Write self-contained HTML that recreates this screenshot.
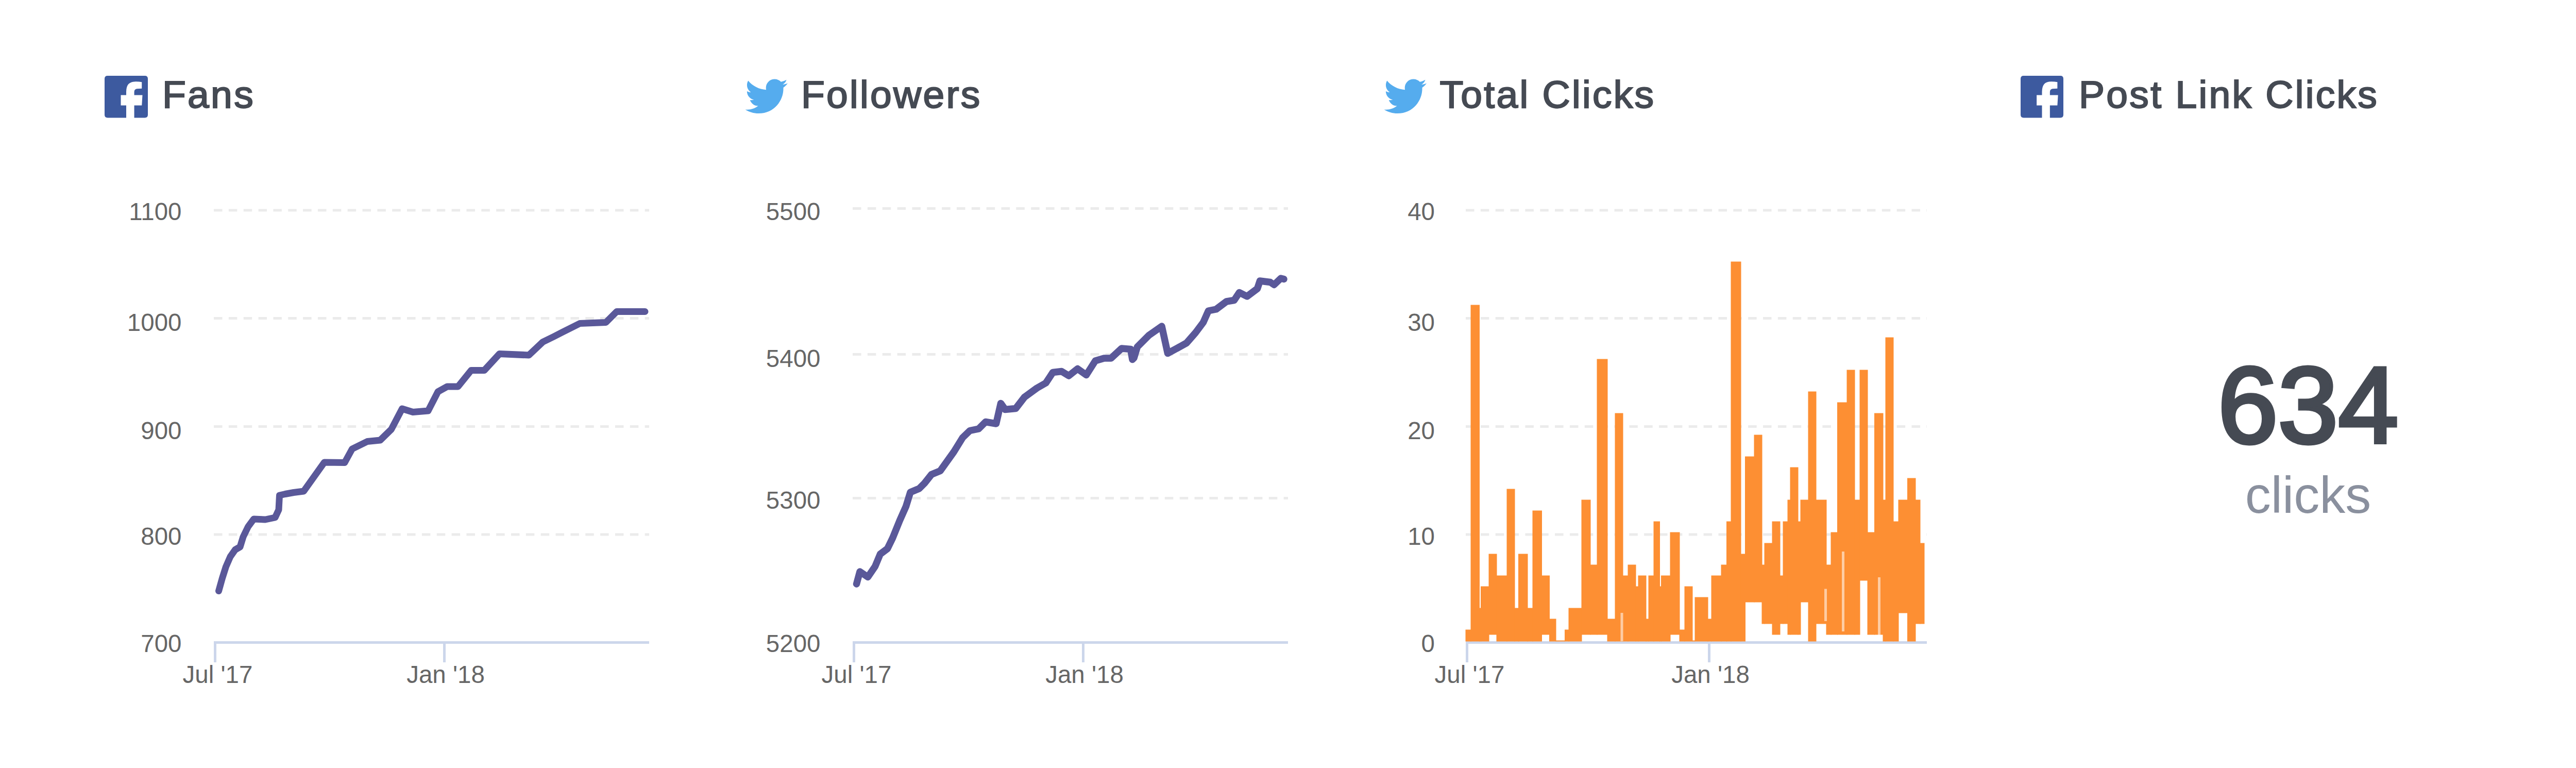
<!DOCTYPE html>
<html><head><meta charset="utf-8"><style>
html,body{margin:0;padding:0;background:#fff;overflow:hidden;}
svg{display:block;}
</style></head><body>
<svg width="5065" height="1490" viewBox="0 0 1013 298">
<rect width="1013" height="298" fill="#fff"/>
<path transform="translate(40.6 29.4) scale(0.016800000000000002 0.016300000000000002)" fill="#3d5a9f" d="M930 0 Q1000 0 1000 70 V930 Q1000 1000 930 1000 H685 V705 H860 L875 460 H685 V385 Q685 320 745 310 L860 305 V150 Q800 138 720 138 Q600 138 550 200 Q500 262 500 380 V460 H375 V705 H500 V1000 H70 Q0 1000 0 930 V70 Q0 0 70 0 Z"/>
<text x="63" y="41.8" font-family="Liberation Sans, sans-serif" font-size="15" fill="#454a53" stroke="#454a53" stroke-width="0.45" letter-spacing="0.66">Fans</text>
<path transform="translate(289.3 29.16) scale(0.0322 0.032)" fill="#55acee" d="M459.37 151.716c.325 4.548.325 9.097.325 13.645 0 138.72-105.583 298.558-298.558 298.558-59.452 0-114.68-17.219-161.137-47.106 8.447.974 16.568 1.299 25.34 1.299 49.055 0 94.213-16.568 130.274-44.832-46.132-.975-84.792-31.188-98.112-72.772 6.498.974 12.995 1.624 19.818 1.624 9.421 0 18.843-1.3 27.614-3.573-48.081-9.747-84.143-51.98-84.143-102.985v-1.299c13.969 7.797 30.214 12.67 47.431 13.319-28.264-18.843-46.781-51.005-46.781-87.391 0-19.492 5.197-37.36 14.294-52.954 51.655 63.675 129.3 105.258 216.365 109.807-1.624-7.797-2.599-15.918-2.599-24.04 0-57.828 46.782-104.934 104.934-104.934 30.213 0 57.502 12.67 76.67 33.137 23.715-4.548 46.456-13.32 66.599-25.34-7.798 24.366-24.366 44.833-46.132 57.827 21.117-2.273 41.584-8.122 60.426-16.243-14.292 20.791-32.161 39.308-52.628 54.253z"/>
<text x="311" y="41.8" font-family="Liberation Sans, sans-serif" font-size="15" fill="#454a53" stroke="#454a53" stroke-width="0.45" letter-spacing="0.66">Followers</text>
<path transform="translate(537.3 29.16) scale(0.0322 0.032)" fill="#55acee" d="M459.37 151.716c.325 4.548.325 9.097.325 13.645 0 138.72-105.583 298.558-298.558 298.558-59.452 0-114.68-17.219-161.137-47.106 8.447.974 16.568 1.299 25.34 1.299 49.055 0 94.213-16.568 130.274-44.832-46.132-.975-84.792-31.188-98.112-72.772 6.498.974 12.995 1.624 19.818 1.624 9.421 0 18.843-1.3 27.614-3.573-48.081-9.747-84.143-51.98-84.143-102.985v-1.299c13.969 7.797 30.214 12.67 47.431 13.319-28.264-18.843-46.781-51.005-46.781-87.391 0-19.492 5.197-37.36 14.294-52.954 51.655 63.675 129.3 105.258 216.365 109.807-1.624-7.797-2.599-15.918-2.599-24.04 0-57.828 46.782-104.934 104.934-104.934 30.213 0 57.502 12.67 76.67 33.137 23.715-4.548 46.456-13.32 66.599-25.34-7.798 24.366-24.366 44.833-46.132 57.827 21.117-2.273 41.584-8.122 60.426-16.243-14.292 20.791-32.161 39.308-52.628 54.253z"/>
<text x="558.9" y="41.8" font-family="Liberation Sans, sans-serif" font-size="15" fill="#454a53" stroke="#454a53" stroke-width="0.45" letter-spacing="0.66">Total Clicks</text>
<path transform="translate(784.4 29.4) scale(0.0166 0.016300000000000002)" fill="#3d5a9f" d="M930 0 Q1000 0 1000 70 V930 Q1000 1000 930 1000 H685 V705 H860 L875 460 H685 V385 Q685 320 745 310 L860 305 V150 Q800 138 720 138 Q600 138 550 200 Q500 262 500 380 V460 H375 V705 H500 V1000 H70 Q0 1000 0 930 V70 Q0 0 70 0 Z"/>
<text x="807" y="41.8" font-family="Liberation Sans, sans-serif" font-size="15" fill="#454a53" stroke="#454a53" stroke-width="0.45" letter-spacing="0.66">Post Link Clicks</text>
<line x1="83" y1="81.6" x2="252" y2="81.6" stroke="#ebebeb" stroke-width="1" stroke-dasharray="3.3 2.47"/>
<line x1="83" y1="123.5" x2="252" y2="123.5" stroke="#ebebeb" stroke-width="1" stroke-dasharray="3.3 2.47"/>
<line x1="83" y1="165.5" x2="252" y2="165.5" stroke="#ebebeb" stroke-width="1" stroke-dasharray="3.3 2.47"/>
<line x1="83" y1="207.4" x2="252" y2="207.4" stroke="#ebebeb" stroke-width="1" stroke-dasharray="3.3 2.47"/>
<text x="70.5" y="85.4" text-anchor="end" font-family="Liberation Sans, sans-serif" font-size="9.5" fill="#666666">1100</text>
<text x="70.5" y="128.4" text-anchor="end" font-family="Liberation Sans, sans-serif" font-size="9.5" fill="#666666">1000</text>
<text x="70.5" y="170.4" text-anchor="end" font-family="Liberation Sans, sans-serif" font-size="9.5" fill="#666666">900</text>
<text x="70.5" y="211.4" text-anchor="end" font-family="Liberation Sans, sans-serif" font-size="9.5" fill="#666666">800</text>
<text x="70.5" y="252.9" text-anchor="end" font-family="Liberation Sans, sans-serif" font-size="9.5" fill="#666666">700</text>
<line x1="83" y1="249.3" x2="252" y2="249.3" stroke="#ccd6eb" stroke-width="1"/>
<line x1="83.5" y1="249.3" x2="83.5" y2="257" stroke="#ccd6eb" stroke-width="1"/>
<text x="84.5" y="265" text-anchor="middle" font-family="Liberation Sans, sans-serif" font-size="9.5" fill="#666666">Jul '17</text>
<line x1="172.5" y1="249.3" x2="172.5" y2="257" stroke="#ccd6eb" stroke-width="1"/>
<text x="173.0" y="265" text-anchor="middle" font-family="Liberation Sans, sans-serif" font-size="9.5" fill="#666666">Jan '18</text>
<polyline points="84.9,229.3 86.3,224.3 87.7,219.9 89.4,216 91.3,213.3 93.2,212.2 94.4,208.3 96.3,204.4 98.5,201.4 103,201.6 106.8,200.8 108.2,197.8 108.5,192.2 110.7,191.7 114,191.1 117.9,190.6 125.9,179.4 133.8,179.5 136.7,174.2 142.6,171.3 147.6,170.8 151.9,166.6 156.1,158.6 160.3,159.9 166.2,159.4 170.0,152.0 173.6,150 177.8,150 182.9,143.7 188.0,143.7 193.9,137.3 205.3,137.8 210.7,132.7 215,130.6 218.3,128.9 225.1,125.5 235.2,125.1 239.4,120.9 250.4,120.9" fill="none" stroke="#5a5899" stroke-width="2.6" stroke-linejoin="round" stroke-linecap="round"/>
<line x1="331" y1="80.9" x2="500" y2="80.9" stroke="#ebebeb" stroke-width="1" stroke-dasharray="3.3 2.47"/>
<line x1="331" y1="137.5" x2="500" y2="137.5" stroke="#ebebeb" stroke-width="1" stroke-dasharray="3.3 2.47"/>
<line x1="331" y1="193.3" x2="500" y2="193.3" stroke="#ebebeb" stroke-width="1" stroke-dasharray="3.3 2.47"/>
<text x="318.5" y="85.4" text-anchor="end" font-family="Liberation Sans, sans-serif" font-size="9.5" fill="#666666">5500</text>
<text x="318.5" y="142.4" text-anchor="end" font-family="Liberation Sans, sans-serif" font-size="9.5" fill="#666666">5400</text>
<text x="318.5" y="197.4" text-anchor="end" font-family="Liberation Sans, sans-serif" font-size="9.5" fill="#666666">5300</text>
<text x="318.5" y="252.9" text-anchor="end" font-family="Liberation Sans, sans-serif" font-size="9.5" fill="#666666">5200</text>
<line x1="331" y1="249.3" x2="500" y2="249.3" stroke="#ccd6eb" stroke-width="1"/>
<line x1="331.5" y1="249.3" x2="331.5" y2="257" stroke="#ccd6eb" stroke-width="1"/>
<text x="332.5" y="265" text-anchor="middle" font-family="Liberation Sans, sans-serif" font-size="9.5" fill="#666666">Jul '17</text>
<line x1="420.5" y1="249.3" x2="420.5" y2="257" stroke="#ccd6eb" stroke-width="1"/>
<text x="421.0" y="265" text-anchor="middle" font-family="Liberation Sans, sans-serif" font-size="9.5" fill="#666666">Jan '18</text>
<polyline points="332.5,226.6 333.8,221.8 336.9,223.9 339.7,219.8 341.7,215 344.5,212.9 346.5,208.8 349.3,201.9 351.7,196.5 353.4,191 356.8,189.6 358.9,187.5 361.6,184.1 365,182.7 370.3,175.3 373.7,169.8 376.5,167.1 379.9,166.4 382.6,163.7 386.7,164.4 388.5,156.5 390.2,158.9 394.3,158.5 397.7,154.1 402.5,150.6 406,148.6 408.7,144.5 412.1,144.1 414.9,145.8 418.3,143.1 421.7,145.5 425.2,140 428.6,139 431.3,139 435.4,135.2 438.9,135.5 439.6,139.5 440.2,138.9 441.5,134.6 446,130.1 451,126.6 453.3,137.1 457,135.1 460.6,133.1 464.1,129.1 467.1,125.1 469.1,120.6 472.1,120 476.1,117 479.1,116.5 481.1,113.5 484.1,115 488.1,112 489.1,109 493.1,109.5 494.6,110.5 497.2,108 498.4,108.3" fill="none" stroke="#5a5899" stroke-width="2.7" stroke-linejoin="round" stroke-linecap="round"/>
<line x1="569" y1="81.6" x2="748" y2="81.6" stroke="#ebebeb" stroke-width="1" stroke-dasharray="3.3 2.47"/>
<line x1="569" y1="123.5" x2="748" y2="123.5" stroke="#ebebeb" stroke-width="1" stroke-dasharray="3.3 2.47"/>
<line x1="569" y1="165.5" x2="748" y2="165.5" stroke="#ebebeb" stroke-width="1" stroke-dasharray="3.3 2.47"/>
<line x1="569" y1="207.4" x2="748" y2="207.4" stroke="#ebebeb" stroke-width="1" stroke-dasharray="3.3 2.47"/>
<text x="557" y="85.4" text-anchor="end" font-family="Liberation Sans, sans-serif" font-size="9.5" fill="#666666">40</text>
<text x="557" y="128.4" text-anchor="end" font-family="Liberation Sans, sans-serif" font-size="9.5" fill="#666666">30</text>
<text x="557" y="170.4" text-anchor="end" font-family="Liberation Sans, sans-serif" font-size="9.5" fill="#666666">20</text>
<text x="557" y="211.4" text-anchor="end" font-family="Liberation Sans, sans-serif" font-size="9.5" fill="#666666">10</text>
<text x="557" y="252.9" text-anchor="end" font-family="Liberation Sans, sans-serif" font-size="9.5" fill="#666666">0</text>
<line x1="569" y1="249.3" x2="748" y2="249.3" stroke="#ccd6eb" stroke-width="1"/>
<line x1="569.5" y1="249.3" x2="569.5" y2="257" stroke="#ccd6eb" stroke-width="1"/>
<text x="570.5" y="265" text-anchor="middle" font-family="Liberation Sans, sans-serif" font-size="9.5" fill="#666666">Jul '17</text>
<line x1="663.5" y1="249.3" x2="663.5" y2="257" stroke="#ccd6eb" stroke-width="1"/>
<text x="664.0" y="265" text-anchor="middle" font-family="Liberation Sans, sans-serif" font-size="9.5" fill="#666666">Jan '18</text>
<g fill="#fd8f33"><rect x="568.90" y="244.30" width="2.20" height="4.60"/><rect x="570.90" y="118.30" width="3.50" height="130.60"/><rect x="574.20" y="235.90" width="0.80" height="13.00"/><rect x="574.80" y="227.50" width="3.30" height="21.40"/><rect x="577.90" y="214.90" width="3.20" height="31.40"/><rect x="580.90" y="223.30" width="4.20" height="25.60"/><rect x="584.90" y="189.70" width="3.20" height="59.20"/><rect x="587.90" y="235.90" width="1.70" height="13.00"/><rect x="589.40" y="214.90" width="3.70" height="34.00"/><rect x="592.90" y="235.90" width="2.20" height="13.00"/><rect x="594.90" y="198.10" width="3.70" height="50.80"/><rect x="598.40" y="223.30" width="3.20" height="23.00"/><rect x="601.40" y="240.10" width="2.70" height="8.80"/><rect x="603.90" y="248.50" width="3.70" height="0.40"/><rect x="607.40" y="244.30" width="1.70" height="4.60"/><rect x="608.90" y="235.90" width="5.20" height="13.00"/><rect x="613.90" y="193.90" width="3.60" height="52.40"/><rect x="617.30" y="219.10" width="2.80" height="27.20"/><rect x="619.90" y="139.30" width="4.20" height="107.00"/><rect x="623.90" y="240.10" width="3.20" height="8.80"/><rect x="626.90" y="160.30" width="3.20" height="88.60"/><rect x="629.90" y="223.30" width="2.20" height="25.60"/><rect x="631.90" y="219.10" width="3.20" height="29.80"/><rect x="634.90" y="227.50" width="1.20" height="21.40"/><rect x="635.90" y="223.30" width="3.20" height="25.60"/><rect x="638.90" y="240.10" width="1.20" height="8.80"/><rect x="639.90" y="223.30" width="2.20" height="25.60"/><rect x="641.90" y="202.30" width="2.50" height="46.60"/><rect x="644.20" y="227.50" width="0.80" height="21.40"/><rect x="644.80" y="223.30" width="3.70" height="25.60"/><rect x="648.30" y="206.50" width="3.80" height="39.80"/><rect x="651.90" y="244.30" width="2.20" height="4.60"/><rect x="653.90" y="227.50" width="3.20" height="21.40"/><rect x="656.90" y="248.50" width="1.20" height="0.40"/><rect x="657.90" y="231.70" width="5.20" height="17.20"/><rect x="662.90" y="240.10" width="1.60" height="8.80"/><rect x="664.30" y="223.30" width="4.00" height="25.60"/><rect x="668.10" y="219.10" width="2.30" height="29.80"/><rect x="670.20" y="202.30" width="1.90" height="46.60"/><rect x="671.90" y="101.50" width="4.00" height="147.40"/><rect x="675.70" y="214.90" width="1.90" height="34.00"/><rect x="677.40" y="177.10" width="3.70" height="56.60"/><rect x="680.90" y="168.70" width="3.20" height="65.00"/><rect x="683.90" y="219.10" width="1.20" height="23.00"/><rect x="684.90" y="210.70" width="3.20" height="31.40"/><rect x="687.90" y="202.30" width="3.20" height="44.00"/><rect x="690.90" y="223.30" width="1.40" height="18.80"/><rect x="692.10" y="202.30" width="2.00" height="39.80"/><rect x="693.90" y="193.90" width="1.20" height="52.40"/><rect x="694.90" y="181.30" width="3.20" height="65.00"/><rect x="697.90" y="202.30" width="1.20" height="44.00"/><rect x="698.90" y="193.90" width="3.20" height="39.80"/><rect x="701.90" y="151.90" width="3.20" height="97.00"/><rect x="704.90" y="193.90" width="4.20" height="48.20"/><rect x="708.90" y="219.10" width="2.00" height="27.20"/><rect x="710.70" y="206.50" width="2.70" height="39.80"/><rect x="713.20" y="156.10" width="3.90" height="90.20"/><rect x="716.90" y="143.50" width="3.20" height="102.80"/><rect x="719.90" y="193.90" width="2.20" height="52.40"/><rect x="721.90" y="143.50" width="3.20" height="81.80"/><rect x="724.90" y="206.50" width="2.90" height="39.80"/><rect x="727.60" y="160.30" width="3.50" height="86.00"/><rect x="730.90" y="193.90" width="1.20" height="55.00"/><rect x="731.90" y="130.90" width="3.20" height="118.00"/><rect x="734.90" y="202.30" width="2.20" height="46.60"/><rect x="736.90" y="193.90" width="3.70" height="44.00"/><rect x="740.40" y="185.50" width="3.30" height="63.40"/><rect x="743.50" y="193.90" width="2.00" height="48.20"/><rect x="745.30" y="210.70" width="1.80" height="31.40"/></g><g fill="#fff" fill-opacity="0.55"><rect x="629.1" y="237.8" width="1.00" height="11.00"/><rect x="715.0" y="214" width="1.00" height="31.00"/><rect x="729.0" y="224" width="1.00" height="23.00"/><rect x="708.2" y="228.5" width="1.00" height="12.50"/></g>
<text x="896" y="171.8" text-anchor="middle" font-family="Liberation Sans, sans-serif" font-size="42" fill="#454a53" stroke="#454a53" stroke-width="1.4">634</text>
<text x="896" y="199" text-anchor="middle" font-family="Liberation Sans, sans-serif" font-size="20" fill="#8a909e">clicks</text>
</svg>
</body></html>
